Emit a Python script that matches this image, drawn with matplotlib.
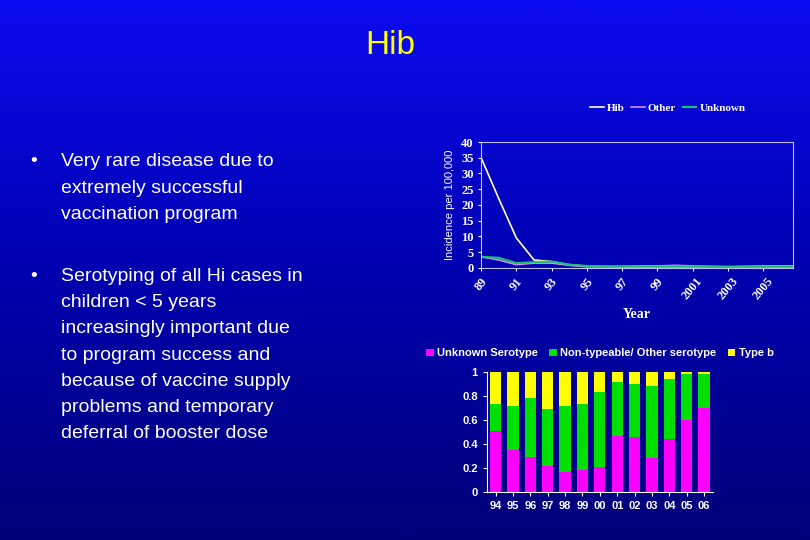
import numpy as np
import matplotlib
matplotlib.use("Agg")
import matplotlib.pyplot as plt

plt.rcParams["font.family"] = ["Liberation Sans", "DejaVu Sans"]

years = list(range(1989, 2008))
hib = [35, 22, 9.5, 2.5, 2.0, 1.0, 0.5, 0.4, 0.3, 0.3, 0.3, 0.3, 0.3, 0.3, 0.3, 0.3, 0.3, 0.3, 0.3]
other = [3.5, 2.5, 1.0, 1.5, 1.5, 0.8, 0.3, 0.4, 0.5, 0.6, 0.6, 0.8, 0.6, 0.5, 0.4, 0.5, 0.6, 0.6, 0.6]
unknown = [3.5, 3.2, 1.5, 1.8, 2.0, 1.0, 0.6, 0.5, 0.4, 0.4, 0.4, 0.4, 0.4, 0.3, 0.3, 0.3, 0.3, 0.3, 0.3]
line_ticks = ["89", "91", "93", "95", "97", "99", "2001", "2003", "2005"]

bar_labels = ["94", "95", "96", "97", "98", "99", "00", "01", "02", "03", "04", "05", "06"]
unk_share = [0.51, 0.35, 0.29, 0.22, 0.17, 0.18, 0.21, 0.47, 0.46, 0.28, 0.44, 0.60, 0.70]
nontype_top = [0.73, 0.72, 0.78, 0.69, 0.72, 0.73, 0.83, 0.92, 0.90, 0.88, 0.94, 0.98, 0.98]

fig = plt.figure(figsize=(8.1, 5.4), dpi=100)

# blue gradient background
bg = fig.add_axes([0, 0, 1, 1], zorder=-10)
grad = np.linspace(0, 1, 256).reshape(-1, 1)
cmap = matplotlib.colors.LinearSegmentedColormap.from_list("bg", ["#0c0cf0", "#0000b0", "#000078"])
bg.imshow(grad, aspect="auto", cmap=cmap, extent=[0, 1, 0, 1])
bg.axis("off")

fig.text(0.482, 0.915, "Hib", color="#ffff00", fontsize=24, ha="center", va="center")

bullets = [
    (0.700, ["Very rare disease due to", "extremely successful", "vaccination program"]),
    (0.488, ["Serotyping of all Hi cases in", "children < 5 years", "increasingly important due",
             "to program success and", "because of vaccine supply",
             "problems and temporary", "deferral of booster dose"]),
]
for y0, lines in bullets:
    fig.text(0.037, y0, "•", color="white", fontsize=14, va="center")
    for i, ln in enumerate(lines):
        fig.text(0.075, y0 - i * 0.0485, ln, color="white", fontsize=14, va="center")

# line chart
ax = fig.add_axes([0.594, 0.504, 0.385, 0.233])
ax.set_facecolor("none")
ax.plot(years, hib, color="#ffffc0", lw=1.2, label="Hib")
ax.plot(years, other, color="#d090f0", lw=1.2, label="Other")
ax.plot(years, unknown, color="#20c070", lw=1.5, label="Unknown")
ax.set_xlim(1989, 2006.7)
ax.set_ylim(0, 40)
ax.set_yticks(range(0, 41, 5))
ax.set_xticks(range(1989, 2006, 2))
ax.set_xticklabels(line_ticks, rotation=50, ha="center", va="top")
for s in ax.spines.values():
    s.set_color("#c0c0ff")
ax.tick_params(colors="white", labelsize=9, length=2)
for t in ax.get_xticklabels() + ax.get_yticklabels():
    t.set_family("Liberation Serif")
    t.set_fontweight("bold")
ax.set_ylabel("Incidence per 100,000", color="white", fontsize=8)
ax.set_xlabel("Year", color="white", fontsize=10, fontweight="bold", family="Liberation Serif")
ax.legend(loc="lower right", bbox_to_anchor=(0.88, 1.15), ncol=3, frameon=False,
          labelcolor="white", handlelength=1.2, columnspacing=0.6, handletextpad=0.3,
          prop={"family": "Liberation Serif", "weight": "bold", "size": 8})

# stacked bars
bx = fig.add_axes([0.601, 0.089, 0.279, 0.222])
bx.set_facecolor("none")
x = np.arange(len(bar_labels))
green = [t - u for t, u in zip(nontype_top, unk_share)]
yellow = [1 - t for t in nontype_top]
bx.bar(x, unk_share, width=0.65, color="#ff00ff", label="Unknown Serotype")
bx.bar(x, green, bottom=unk_share, width=0.65, color="#00e000", label="Non-typeable/ Other serotype")
bx.bar(x, yellow, bottom=nontype_top, width=0.65, color="#ffff00", label="Type b")
bx.set_xlim(-0.5, len(x) - 0.5)
bx.set_ylim(0, 1)
bx.set_yticks([0, 0.2, 0.4, 0.6, 0.8, 1])
bx.set_yticklabels(["0", "0.2", "0.4", "0.6", "0.8", "1"])
bx.set_xticks(x)
bx.set_xticklabels(bar_labels)
for t in bx.get_xticklabels() + bx.get_yticklabels():
    t.set_fontweight("bold")
for side in ["top", "right"]:
    bx.spines[side].set_visible(False)
for side in ["left", "bottom"]:
    bx.spines[side].set_color("white")
bx.tick_params(colors="white", labelsize=8, length=3)
bx.legend(loc="lower center", bbox_to_anchor=(0.5, 1.03), ncol=3, frameon=False,
          labelcolor="white", handlelength=0.7, handleheight=0.7,
          columnspacing=1.0, handletextpad=0.3, prop={"weight": "bold", "size": 8})

fig.savefig("out.png")
